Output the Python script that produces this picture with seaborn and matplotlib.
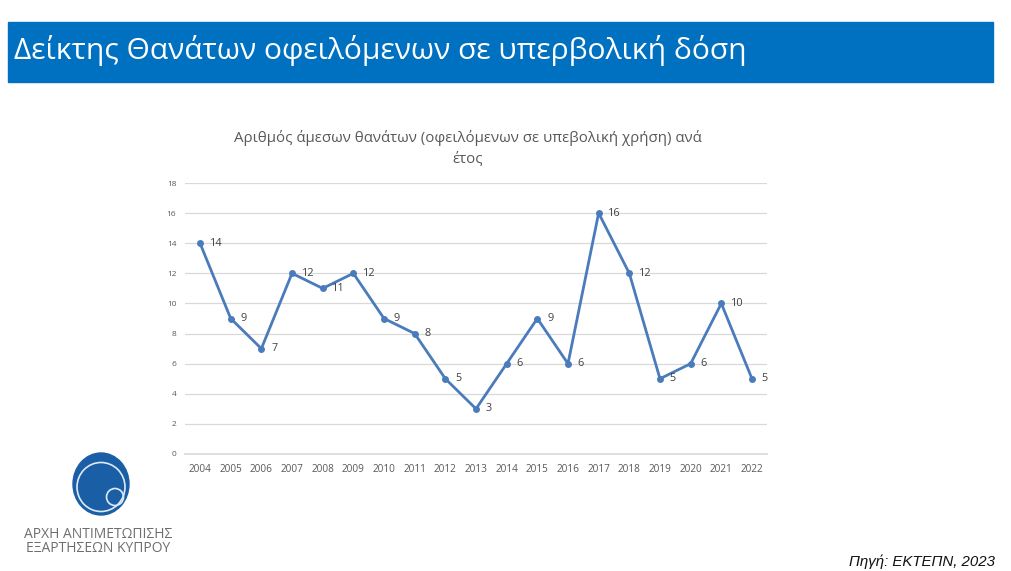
import matplotlib
matplotlib.use("Agg")
import matplotlib.pyplot as plt
import matplotlib.patches as mpatches
import seaborn as sns
import pandas as pd

years = list(range(2004, 2023))
deaths = [14, 9, 7, 12, 11, 12, 9, 8, 5, 3, 6, 9, 6, 16, 12, 5, 6, 10, 5]
yticks = [0, 2, 4, 6, 8, 10, 12, 14, 16, 18]

page_title = "Δείκτης Θανάτων οφειλόμενων σε υπερβολική δόση"
chart_title = "Αριθμός άμεσων θανάτων (οφειλόμενων σε υπεβολική χρήση) ανά\nέτος"
source = "Πηγή: ΕΚΤΕΠΝ, 2023"
logo_lines = ["ΑΡΧΗ ΑΝΤΙΜΕΤΩΠΙΣΗΣ", "ΕΞΑΡΤΗΣΕΩΝ ΚΥΠΡΟΥ"]

df = pd.DataFrame({"year": years, "deaths": deaths})

sns.set_theme(style="white")
plt.rcParams['font.family'] = ['Open Sans', 'DejaVu Sans']

W, H = 1012, 571
fig = plt.figure(figsize=(W / 100, H / 100), dpi=100)
fig.patch.set_facecolor("white")

def fx(x): return x / W
def fy(y): return 1 - y / H

# banner
fig.patches.append(mpatches.Rectangle((fx(8), fy(82)), fx(993) - fx(8), fy(22) - fy(82),
                                      transform=fig.transFigure, color="#0070C0", zorder=0))
fig.text(fx(14), fy(51), page_title, color="white", fontsize=21.6, va="center", ha="left",
         family=['Open Sans', 'DejaVu Sans'])

# chart axes
left, right = 184.7, 767.3
ax = fig.add_axes([fx(left), fy(454), fx(right) - fx(left), fy(183) - fy(454)])
sns.lineplot(data=df, x="year", y="deaths", ax=ax, color="#4A7BBA", linewidth=2,
             marker="o", markersize=5, markeredgewidth=0)
ax.set_xlim(2003.5, 2022.5)
ax.set_ylim(0, 18)
ax.set_yticks(yticks)
ax.set_xticks(years)
ax.set_xticklabels([str(y) for y in years])
ax.grid(axis="y", color="#D9D9D9", linewidth=0.9)
ax.set_axisbelow(True)
for s in ["top", "right", "left"]:
    ax.spines[s].set_visible(False)
ax.spines["bottom"].set_color("#D9D9D9")
ax.tick_params(axis="y", labelsize=6, colors="#595959", length=0, pad=6)
ax.tick_params(axis="x", labelsize=7.2, colors="#595959", length=0, pad=7)
ax.set_xlabel("")
ax.set_ylabel("")
for x, y in zip(years, deaths):
    ax.annotate(str(y), (x, y), xytext=(7, 0), textcoords="offset points",
                fontsize=7.8, color="#404040", va="center", ha="left")

fig.text(fx(468), fy(138), chart_title.split("\n")[0], ha="center", va="center",
         fontsize=10.8, color="#595959")
fig.text(fx(468), fy(160), chart_title.split("\n")[1], ha="center", va="center",
         fontsize=10.8, color="#595959")

# logo
fig.patches.append(mpatches.Ellipse((fx(101), fy(484)), fx(56), fy(0) - fy(62),
                                    transform=fig.transFigure, color="#1A5EA6", zorder=1))
fig.patches.append(mpatches.Ellipse((fx(101), fy(487)), fx(48), fy(0) - fy(49),
                                    transform=fig.transFigure, fill=False, ec="#DDEBF7", lw=1.2, zorder=2))
fig.patches.append(mpatches.Ellipse((fx(115), fy(497)), fx(17), fy(0) - fy(17),
                                    transform=fig.transFigure, fill=False, ec="#DDEBF7", lw=1.2, zorder=2))
fig.text(fx(98), fy(534), logo_lines[0], ha="center", va="center", fontsize=10, color="#6E6E6E")
fig.text(fx(98), fy(548), logo_lines[1], ha="center", va="center", fontsize=10, color="#6E6E6E")

fig.text(fx(995), fy(562), source, ha="right", va="center", fontsize=10.8, style="italic",
         color="#111111", family=['Liberation Sans', 'DejaVu Sans'])

fig.savefig("out.png", dpi=100)
